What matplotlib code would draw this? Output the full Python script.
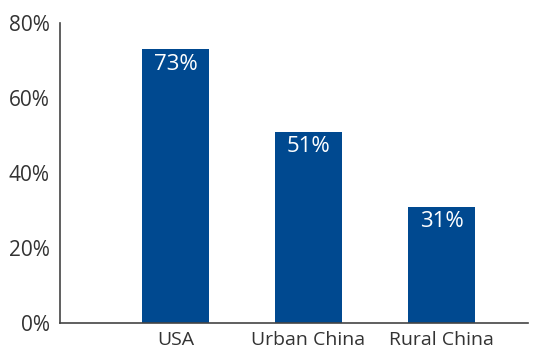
import numpy as np
import matplotlib.pyplot as plt
from matplotlib.ticker import PercentFormatter

categories = ["USA", "Urban China", "Rural China"]
shares = [73, 51, 31]
y_ticks = [0, 20, 40, 60, 80]

plt.rcParams['font.family'] = ['Open Sans', 'DejaVu Sans']

fig = plt.figure(figsize=(5.47, 3.5), dpi=100)
ax = fig.add_axes([60 / 547, 27 / 350, 468 / 547, 300 / 350])

x = np.arange(len(categories))
bars = ax.bar(x, shares, width=0.504, color="#004990")

for b, v in zip(bars, shares):
    ax.text(b.get_x() + b.get_width() / 2, v - 1.2, f"{v}%", ha="center", va="top",
            color="white", fontsize=16)

ax.set_xlim(-0.868, 2.65)
ax.set_ylim(0, 80)
ax.set_yticks(y_ticks)
ax.yaxis.set_major_formatter(PercentFormatter(decimals=0))
ax.set_xticks(x)
ax.set_xticklabels(categories)
ax.tick_params(length=0, labelsize=14, labelcolor="#333333")
ax.tick_params(axis="y", pad=7.5, labelsize=15)
ax.tick_params(axis="x", pad=6)

for side in ["top", "right"]:
    ax.spines[side].set_visible(False)
for side in ["left", "bottom"]:
    ax.spines[side].set_color("#444444")
    ax.spines[side].set_linewidth(1.2)

fig.savefig("out.png", dpi=100)
